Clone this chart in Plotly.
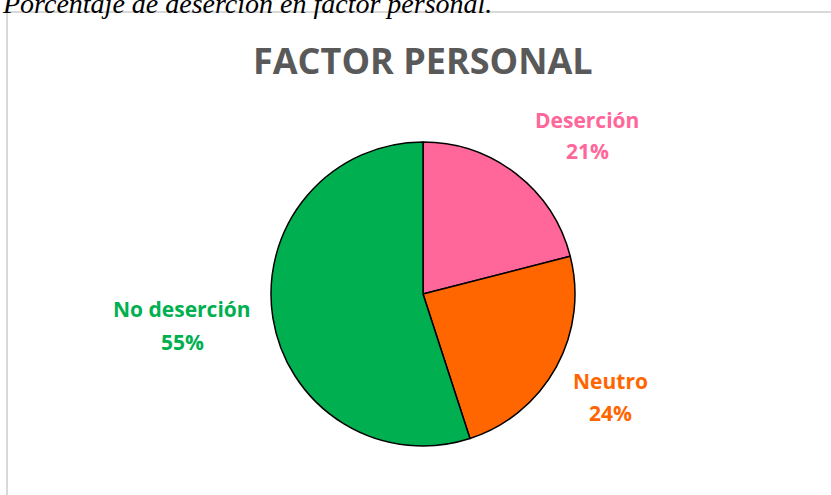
import plotly.graph_objects as go

W, H = 831, 495

categories = ["Deserción", "Neutro", "No deserción"]
values = [21, 24, 55]
colors = ["#FF6699", "#FF6600", "#00B050"]

# label positions (pixels): (x center, y of name line, y of percent line)
label_px = [(587, 120, 151), (610, 381, 413), (182, 309, 342)]

cx, cy, r = 423, 294, 152

fig = go.Figure()
fig.add_trace(go.Pie(
    labels=categories,
    values=values,
    sort=False,
    direction="clockwise",
    rotation=0,
    marker=dict(colors=colors, line=dict(color="#000000", width=1.5)),
    textinfo="none",
    hoverinfo="label+percent",
    showlegend=False,
    domain=dict(x=[(cx - r) / W, (cx + r) / W], y=[1 - (cy + r) / H, 1 - (cy - r) / H]),
))

total = sum(values)
for cat, val, col, (px, py1, py2) in zip(categories, values, colors, label_px):
    for txt, py in ((cat, py1), (f"{round(100 * val / total)}%", py2)):
        fig.add_annotation(
            x=px / W, y=1 - py / H, xref="paper", yref="paper",
            xanchor="center", yanchor="middle",
            text=f"<b>{txt}</b>",
            showarrow=False, align="center",
            font=dict(family="Open Sans", size=21, color=col),
        )

fig.add_annotation(
    x=cx / W, y=1 - 60 / H, xref="paper", yref="paper",
    xanchor="center", yanchor="middle",
    text="<b>FACTOR PERSONAL</b>", showarrow=False,
    font=dict(family="Open Sans", size=36, color="#595959"),
)

fig.add_annotation(
    x=0, y=1 - 21 / H, xref="paper", yref="paper", xanchor="left", yanchor="bottom",
    text="<i>Porcentaje de deserción en factor personal.</i>", showarrow=False,
    font=dict(family="Liberation Serif", size=28, color="#000000"),
)

fig.add_shape(type="rect", xref="paper", yref="paper",
              x0=7 / W, x1=845 / W, y0=1 - 12 / H, y1=-0.05,
              line=dict(color="#D9D9D9", width=2), fillcolor="rgba(0,0,0,0)", layer="below")

fig.update_layout(
    width=W, height=H, margin=dict(l=0, r=0, t=0, b=0),
    paper_bgcolor="white", plot_bgcolor="white",
)

fig.write_html("out.html", config={"displayModeBar": False},
               post_script="document.body.style.margin='0';")
